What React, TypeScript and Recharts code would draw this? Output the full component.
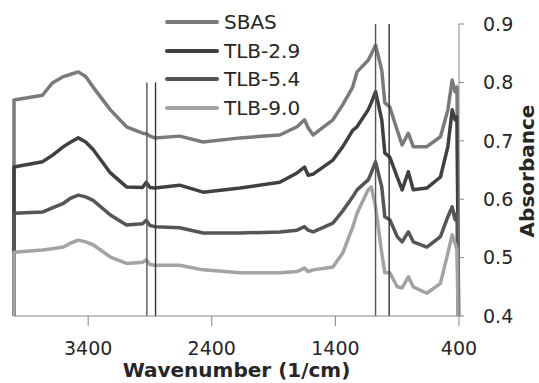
import React from "react";
import { LineChart, Line, XAxis, YAxis, ReferenceLine } from "recharts";

// wavenumber (1/cm), high to low as in the spectrum
const wavenumbers = [
  4000, 3770, 3690, 3600, 3540, 3480, 3420, 3360, 3220, 3090, 2960, 2930,
  2900, 2860, 2660, 2470, 2170, 1850, 1710, 1650, 1620, 1580, 1420, 1340,
  1260, 1225, 1135, 1110, 1075, 1025, 1000, 960, 900, 860, 810, 770, 660, 550,
  490, 455, 432, 416,
];

const sbas = [
  0.77, 0.778, 0.799, 0.81, 0.814, 0.818, 0.81, 0.792, 0.753, 0.724, 0.713,
  0.712, 0.708, 0.705, 0.708, 0.698, 0.705, 0.71, 0.724, 0.736, 0.722, 0.71,
  0.736, 0.762, 0.792, 0.818, 0.838, 0.848, 0.864, 0.821, 0.765, 0.758, 0.718,
  0.693, 0.713, 0.69, 0.69, 0.707, 0.753, 0.804, 0.784, 0.792,
];

const tlb29 = [
  0.655, 0.664, 0.675, 0.69, 0.698, 0.705, 0.698, 0.685, 0.645, 0.621, 0.62,
  0.629, 0.62, 0.619, 0.624, 0.612, 0.619, 0.629, 0.645, 0.655, 0.641, 0.643,
  0.667, 0.69, 0.718, 0.724, 0.753, 0.765, 0.784, 0.736, 0.679, 0.672, 0.638,
  0.616, 0.647, 0.616, 0.619, 0.638, 0.69, 0.753, 0.736, 0.741,
];

const tlb54 = [
  0.576, 0.578, 0.585, 0.593, 0.602, 0.607, 0.604, 0.598, 0.573, 0.556, 0.558,
  0.564, 0.555, 0.553, 0.551, 0.542, 0.542, 0.544, 0.547, 0.553, 0.547, 0.544,
  0.559, 0.58, 0.604, 0.616, 0.633, 0.645, 0.664, 0.621, 0.57, 0.565, 0.536,
  0.527, 0.544, 0.527, 0.518, 0.536, 0.57, 0.587, 0.565, 0.576,
];

const tlb90 = [
  0.509, 0.513, 0.515, 0.518, 0.525, 0.53, 0.527, 0.522, 0.501, 0.49, 0.492,
  0.496, 0.488, 0.487, 0.487, 0.479, 0.474, 0.474, 0.476, 0.482, 0.476, 0.479,
  0.484, 0.508, 0.552, 0.576, 0.616, 0.621, 0.587, 0.508, 0.474, 0.474, 0.45,
  0.448, 0.467, 0.45, 0.439, 0.456, 0.508, 0.539, 0.525, 0.513,
];

// the spectra fall off the bottom of the axis at both ends
const edgeValue = 0.3;
const edgeWavenumbers = [4000, 400];

const seriesNames = ["SBAS", "TLB-2.9", "TLB-5.4", "TLB-9.0"];
const seriesKeys = ["sbas", "tlb29", "tlb54", "tlb90"];
const seriesColors = ["#7a7a7a", "#404040", "#555555", "#a3a3a3"];

// marked bands
const bandWavenumbers = [2925, 2855, 1075, 965];
const bandTops = [0.8, 0.8, 0.9, 0.9];

const xTicks = [3400, 2400, 1400, 400];
const yTicks = [0.4, 0.5, 0.6, 0.7, 0.8, 0.9];

const edgeRow = (wn: number) => ({
  wn,
  sbas: edgeValue,
  tlb29: edgeValue,
  tlb54: edgeValue,
  tlb90: edgeValue,
});

const data = [
  edgeRow(edgeWavenumbers[0]),
  ...wavenumbers.map((wn, i) => ({
    wn,
    sbas: sbas[i],
    tlb29: tlb29[i],
    tlb54: tlb54[i],
    tlb90: tlb90[i],
  })),
  edgeRow(edgeWavenumbers[1]),
];

const font = "'DejaVu Sans', sans-serif";
const textColor = "#262626";
const axisColor = "#868686";

function LegendBox() {
  return (
    <div
      style={{
        position: "absolute",
        left: 165,
        top: 8,
        fontFamily: font,
        fontSize: 20,
        color: textColor,
      }}
    >
      {seriesNames.map((name, i) => (
        <div
          key={name}
          style={{ display: "flex", alignItems: "center", height: 28.5 }}
        >
          <span
            style={{
              display: "inline-block",
              width: 54,
              height: 4,
              borderRadius: 2,
              background: seriesColors[i],
              marginRight: 5,
            }}
          />
          <span>{name}</span>
        </div>
      ))}
    </div>
  );
}

function YTitle(props: any) {
  const vb = props.viewBox || {};
  const cx = vb.x + vb.width - 12;
  const cy = 171;
  return (
    <text
      x={cx}
      y={cy}
      transform={`rotate(-90 ${cx} ${cy})`}
      textAnchor="middle"
      dominantBaseline="central"
      fontFamily={font}
      fontSize={20}
      fontWeight="bold"
      fill={textColor}
    >
      Absorbance
    </text>
  );
}

export default function App() {
  return (
    <div
      style={{
        position: "absolute",
        left: 0,
        top: 0,
        width: 539,
        height: 383,
        background: "#fff",
      }}
    >
      <LineChart
        width={539}
        height={383}
        data={data}
        margin={{ top: 24, right: 0, bottom: 5, left: 14 }}
      >
        <XAxis
          dataKey="wn"
          type="number"
          domain={[400, 4000]}
          reversed
          ticks={xTicks}
          interval={0}
          height={62}
          tickSize={10}
          tickMargin={16}
          stroke={axisColor}
          tick={{ fill: textColor, fontSize: 19, fontFamily: font }}
          label={{
            value: "Wavenumber (1/cm)",
            position: "insideBottom",
            offset: 1,
            fill: textColor,
            fontSize: 20,
            fontWeight: "bold",
            fontFamily: font,
          }}
        />
        <YAxis
          orientation="right"
          width={80}
          domain={[0.4, 0.9]}
          ticks={yTicks}
          allowDataOverflow
          tickSize={5}
          tickMargin={19}
          stroke={axisColor}
          tickFormatter={(v: number) => v.toFixed(1)}
          tick={{ fill: textColor, fontSize: 19, fontFamily: font }}
          label={<YTitle />}
        />
        {seriesKeys.map((key, i) => (
          <Line
            key={key}
            dataKey={key}
            name={seriesNames[i]}
            type="linear"
            stroke={seriesColors[i]}
            strokeWidth={3.5}
            strokeLinejoin="round"
            dot={false}
            activeDot={false}
            isAnimationActive={false}
          />
        ))}
        {bandWavenumbers.map((wn, i) => (
          <ReferenceLine
            key={wn}
            segment={[
              { x: wn, y: bandTops[i] },
              { x: wn, y: 0.4 },
            ]}
            stroke={i % 2 === 0 ? "#555555" : "#333333"}
            strokeWidth={1.4}
          />
        ))}
      </LineChart>
      <LegendBox />
    </div>
  );
}
